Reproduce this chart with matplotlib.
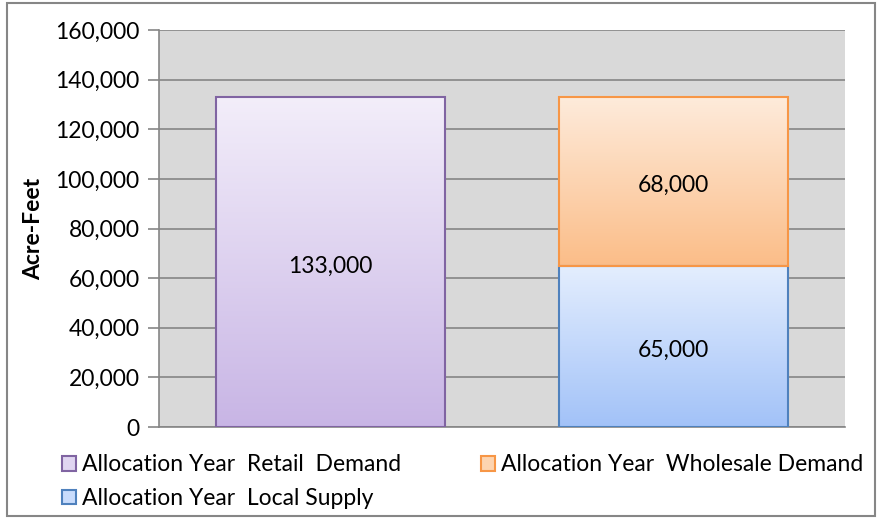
import matplotlib
matplotlib.use("Agg")
import matplotlib.pyplot as plt
import numpy as np
from matplotlib.patches import Rectangle
from matplotlib.colors import LinearSegmentedColormap
from matplotlib.ticker import FuncFormatter

categories = ["Retail", "Wholesale"]
retail_demand = [133000, 0]
local_supply = [0, 65000]
wholesale_demand = [0, 68000]
series_names = ["Allocation Year  Retail  Demand",
                "Allocation Year  Local Supply",
                "Allocation Year  Wholesale Demand"]
y_ticks = [0, 20000, 40000, 60000, 80000, 100000, 120000, 140000, 160000]

plt.rcParams['font.family'] = ['Lato', 'DejaVu Sans']
FS = 16.5

fig = plt.figure(figsize=(8.77, 5.19), dpi=100)
ax = fig.add_axes([159/877, 1-427/519, (845-159)/877, (427-30)/519])
ax.set_facecolor('#D9D9D9')

x = np.arange(len(categories))
w = 0.665

styles = {
    'retail': ('#F3EEFA', '#C8B5E5', '#8064A2'),
    'local': ('#E4EEFE', '#A2C2F8', '#4F81BD'),
    'whole': ('#FEEBDB', '#FBBD88', '#F79646'),
}

def grad_bars(xs, heights, bottoms, key, label):
    top_c, bot_c, edge = styles[key]
    xs = np.asarray(xs)
    heights = np.asarray(heights)
    bottoms = np.broadcast_to(np.asarray(bottoms), heights.shape)
    keep = heights > 0
    bars = ax.bar(xs[keep], heights[keep], w, bottom=bottoms[keep], facecolor='none',
                  edgecolor=edge, linewidth=1.5, label=label, zorder=3)
    cmap = LinearSegmentedColormap.from_list(key, [bot_c, top_c])
    grad = np.linspace(0, 1, 256).reshape(-1, 1)
    for b in bars:
        x0, y0 = b.get_x(), b.get_y()
        im = ax.imshow(grad, cmap=cmap, origin='lower', aspect='auto',
                       extent=[x0, x0 + b.get_width(), y0, y0 + b.get_height()],
                       zorder=2.5, interpolation='bilinear')
        im.set_clip_path(b)
    return bars

grad_bars(x, retail_demand, 0, 'retail', series_names[0])
grad_bars(x, local_supply, 0, 'local', series_names[1])
grad_bars(x, wholesale_demand, local_supply, 'whole', series_names[2])

# data labels
def label(xi, yc, v):
    ax.annotate(f"{v:,}", (xi, yc), xytext=(0, -4), textcoords='offset pixels',
                ha='center', va='center', fontsize=FS, zorder=5)

for xi, v in zip(x, retail_demand):
    if v > 0:
        label(xi, v / 2, v)
for xi, v in zip(x, local_supply):
    if v > 0:
        label(xi, v / 2, v)
for xi, v, b in zip(x, wholesale_demand, local_supply):
    if v > 0:
        label(xi, b + v / 2, v)

ax.set_xlim(-0.5, 1.5)
ax.set_ylim(0, 160000)
ax.set_yticks(y_ticks)
ax.yaxis.set_major_formatter(FuncFormatter(lambda v, p: f"{int(v):,}"))
ax.tick_params(axis='y', labelsize=FS, length=8, width=1.2, color='#868686', pad=6)
ax.set_xticks([])
ax.grid(axis='y', color='#868686', linewidth=1.2, zorder=1)
ax.set_axisbelow(True)
for s in ['top', 'right']:
    ax.spines[s].set_visible(False)
ax.spines['left'].set_color('#868686')
ax.spines['left'].set_linewidth(1.2)
ax.spines['bottom'].set_color('#868686')
ax.spines['bottom'].set_linewidth(1.2)
ax.set_ylabel("Acre-Feet", fontsize=FS, fontweight='bold', labelpad=8)

# legend
handles = [Rectangle((0, 0), 1, 1, facecolor='#E0D5F1', edgecolor=styles['retail'][2], lw=1.5),
           Rectangle((0, 0), 1, 1, facecolor='#C9DCFC', edgecolor=styles['local'][2], lw=1.5),
           Rectangle((0, 0), 1, 1, facecolor='#FDD4B0', edgecolor=styles['whole'][2], lw=1.5)]
fig.legend(handles, series_names, ncol=2, loc='upper left',
           bbox_to_anchor=(51/877, 1-443/519), frameon=False, fontsize=FS,
           handlelength=0.6, handleheight=0.6, handletextpad=0.25,
           columnspacing=3.5, labelspacing=0.55, borderpad=0)

# outer chart border
fig.patches.append(Rectangle((7/877, 3/519), 868/877, 513/519, transform=fig.transFigure,
                             fill=False, edgecolor='#868686', linewidth=1.5))

fig.savefig("out.png", dpi=100)
